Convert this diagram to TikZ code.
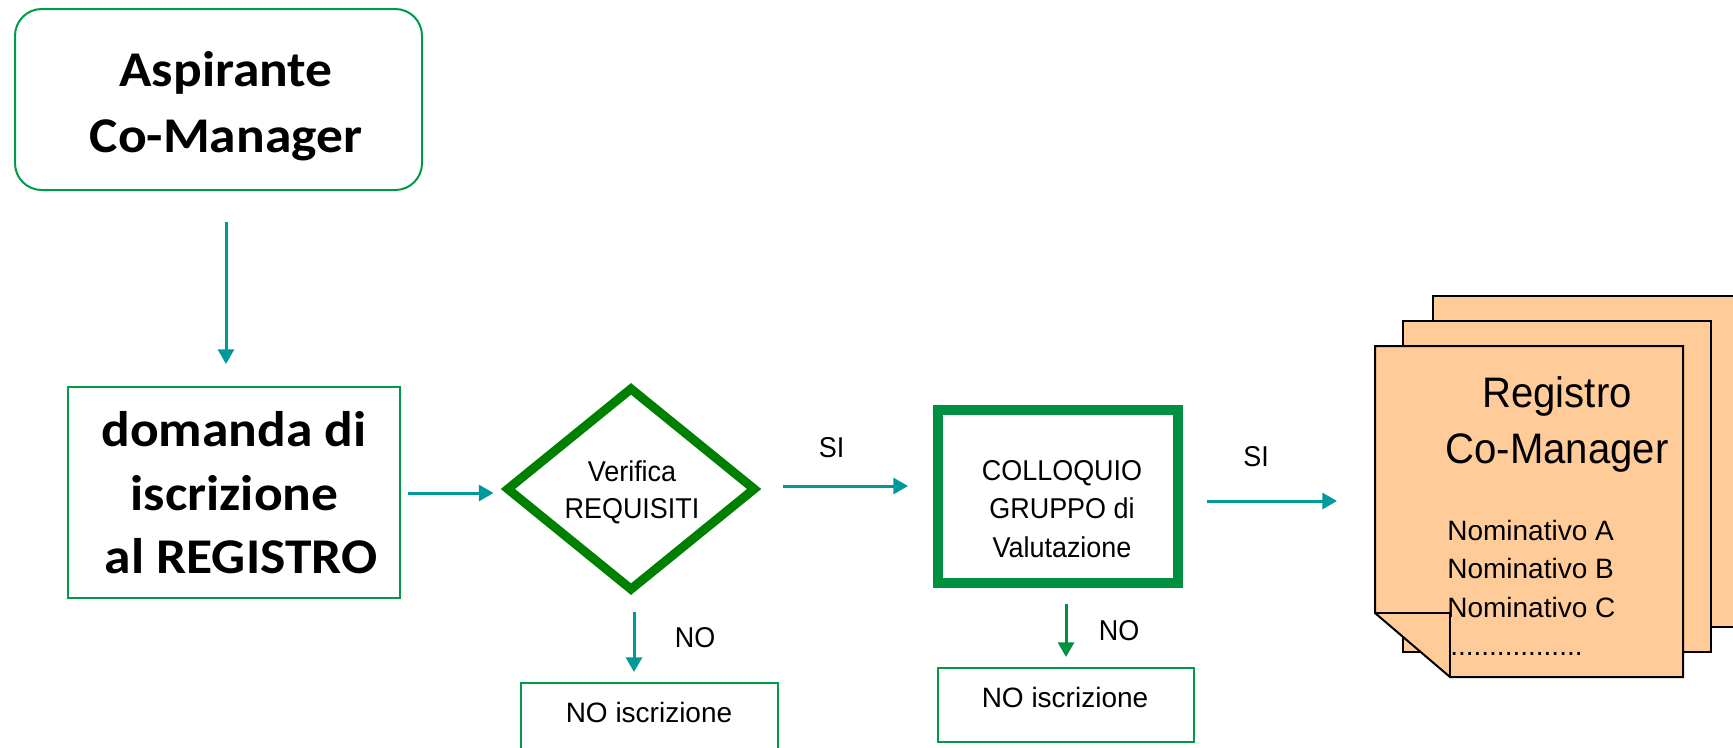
\documentclass[tikz,border=0pt]{standalone}
\usepackage{fontspec}
\usetikzlibrary{arrows.meta,shapes.geometric,calc}
\newfontfamily\calfont[FakeStretch=1.07]{Carlito}
\newfontfamily\narfont[FakeStretch=0.94]{Liberation Sans}
\newfontfamily\widefont{Liberation Sans}
\definecolor{teal1}{RGB}{0,153,153}
\definecolor{green1}{RGB}{0,155,72}
\definecolor{green2}{RGB}{0,128,0}
\definecolor{green3}{RGB}{0,145,64}
\definecolor{page}{RGB}{255,204,153}
\def\pxu{0.75pt}
\begin{document}
\begin{tikzpicture}[x=0.75pt,y=-0.75pt,
  arr/.style={draw=teal1, line width=2.25pt, -{Triangle[width=12pt,length=11pt]}},
  thinbox/.style={draw=green1, line width=1.5pt, inner sep=0pt, rectangle},
  calt/.style={inner sep=0pt, anchor=base, font=\calfont\bfseries\fontsize{37.5}{44}\selectfont},
  nart/.style={inner sep=0pt, anchor=base, font=\narfont\fontsize{21.5}{25}\selectfont},
  widet/.style={inner sep=0pt, anchor=base, font=\widefont\fontsize{21}{25}\selectfont},
  regt/.style={inner sep=0pt, anchor=base, font=\narfont\fontsize{32}{38}\selectfont},
  pagestyle/.style={fill=page, draw=black, line width=1.5pt, line join=miter}
]
\clip (0,0) rectangle (1733,747);
\useasboundingbox (0,0) rectangle (1733,747);

% boxes
\node[thinbox, rounded corners=20pt, minimum width=407*\pxu, minimum height=181*\pxu] (top) at (218.5,99.5) {};
\node[thinbox, minimum width=332*\pxu, minimum height=211*\pxu] (dom) at (234,492.5) {};
\node[diamond, draw=green2, line width=6.75pt, inner sep=0pt, minimum width=250*\pxu, minimum height=204*\pxu] (dia) at (631,489) {};
\node[rectangle, draw=green3, line width=7.5pt, inner sep=0pt, minimum width=240*\pxu, minimum height=173*\pxu] (col) at (1058,496.5) {};
\node[thinbox, minimum width=257*\pxu, minimum height=100*\pxu] (nob1) at (649.5,733) {};
\node[thinbox, minimum width=256*\pxu, minimum height=74*\pxu] (nob2) at (1066,705) {};

% register pages
\filldraw[pagestyle] (1433,296) rectangle (1770,627);
\filldraw[pagestyle] (1403,321) rectangle (1711,652);
\filldraw[pagestyle] (1375,346) -- (1683,346) -- (1683,677) -- (1450,677) -- (1375,613) -- cycle;
\draw[pagestyle, fill=none] (1375,613) -- (1450,613) -- (1450,677);
\coordinate (reg) at (1375,501);

% texts
\node[calt] (t1) at (226,86) {Aspirante};
\node[calt] (t2) at (226,152) {Co-Manager};
\node[calt] (d1) at (234,446) {domanda di};
\node[calt] (d2) at (234.5,510) {iscrizione};
\node[calt] (d3) at (241,573) {al REGISTRO};
\node[nart] (v1) at (632,481) {Verifica};
\node[nart] (v2) at (632,518) {REQUISITI};
\node[nart] (c1) at (1062,480) {COLLOQUIO};
\node[nart] (c2) at (1062,518) {GRUPPO di};
\node[nart] (c3) at (1062,557) {Valutazione};
\node[nart] (si1) at (831.5,457) {SI};
\node[nart] (si2) at (1256,466) {SI};
\node[nart] (no1) at (695,647) {NO};
\node[nart] (no2) at (1119,640) {NO};
\node[widet] (n1) at (649,722) {NO iscrizione};
\node[widet] (n2) at (1065,707) {NO iscrizione};
\node[regt] (r1) at (1557,407) {Registro};
\node[regt] (r2) at (1557,463) {Co-Manager};
\node[widet, anchor=base west] (na) at (1447,540) {Nominativo A};
\node[widet, anchor=base west] (nb) at (1447,578) {Nominativo B};
\node[widet, anchor=base west] (nc) at (1447,617) {Nominativo C};
\node[widet, anchor=base west] (dots) at (1450,655) {.................};

% connectors
\draw[arr] ($(top.south)+(7.5,31)$) -- ($(top.south -| dom.north)+(-8,173)$);
\draw[arr] ($(dom.east)+(7,0.5)$) -- ($(dom.east -| dia.west)+(-8,0.5)$);
\draw[arr] ($(dia.east)+(22,-3)$) -- ($(dia.east -| col.west)+(-25,-3)$);
\draw[arr] ($(col.east)+(24,4.5)$) -- ($(reg)+(-38,0)$);
\draw[arr] ($(dia.south)+(3,16)$) -- ($(dia.south |- nob1.north)+(3,-10)$);
\draw[arr, draw=green3] ($(col.south)+(8,16)$) -- ($(col.south |- nob2.north)+(8,-10)$);
\end{tikzpicture}
\end{document}
